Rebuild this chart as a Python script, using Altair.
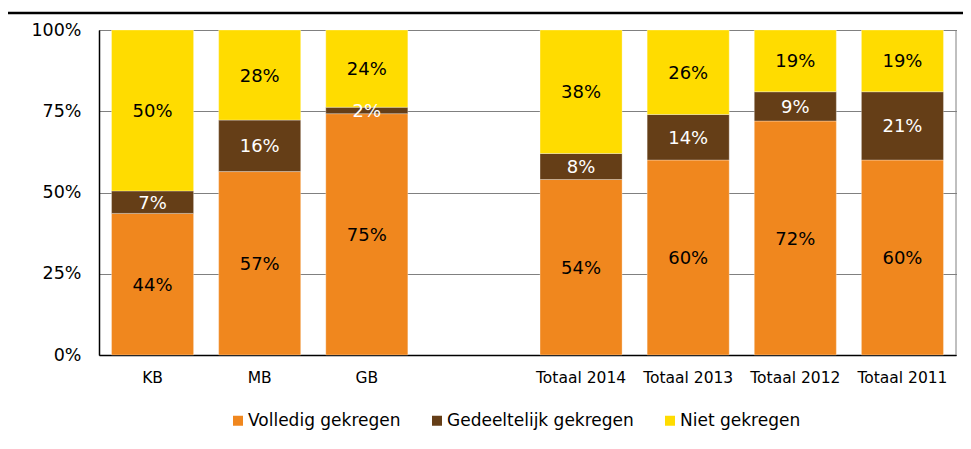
import altair as alt
import pandas as pd

categories = ["KB", "MB", "GB", " ", "Totaal 2014", "Totaal 2013", "Totaal 2012", "Totaal 2011"]
bar_categories = ["KB", "MB", "GB", "Totaal 2014", "Totaal 2013", "Totaal 2012", "Totaal 2011"]
series = ["Volledig gekregen", "Gedeeltelijk gekregen", "Niet gekregen"]
colors = ["#F0871E", "#653E17", "#FFDC00"]

volledig = [44, 57, 75, 54, 60, 72, 60]
gedeeltelijk = [7, 16, 2, 8, 14, 9, 21]
niet = [50, 28, 24, 38, 26, 19, 19]

rows = []
for i, c in enumerate(bar_categories):
    for j, (s, vals) in enumerate(zip(series, [volledig, gedeeltelijk, niet])):
        rows.append({"cat": c, "serie": s, "value": vals[i], "order": j})
df = pd.DataFrame(rows)
one = pd.DataFrame({"a": [0]})

W, H = 857, 325
FONT = "DejaVu Sans"

base = alt.Chart(df).transform_stack(
    stack="value", groupby=["cat"], as_=["y0", "y1"], offset="normalize",
    sort=[alt.SortField("order", "ascending")]
).transform_calculate(
    mid="(datum.y0 + datum.y1) / 2", label="datum.value + '%'"
)

xenc = alt.X("cat:N", sort=categories,
             scale=alt.Scale(domain=categories, paddingInner=0.234, paddingOuter=0.117),
             axis=alt.Axis(title=None, labelAngle=0, labelFontSize=15.5, labelColor="#000",
                           labelPadding=15, ticks=False, domainColor="#000", domainWidth=1.5,
                           labelFont=FONT))

bars = base.mark_bar(stroke="#ffffff", strokeWidth=0.6, strokeOpacity=0.5).encode(
    x=xenc,
    y=alt.Y("y0:Q", scale=alt.Scale(domain=[0, 1]),
            axis=alt.Axis(title=None, values=[0, 0.25, 0.5, 0.75, 1], format=".0%",
                          labelFontSize=17.5, labelColor="#000", labelPadding=18, ticks=False,
                          domainColor="#000", domainWidth=1.5, grid=True, gridColor="#000",
                          gridDash=[1, 1], gridWidth=1, labelFont=FONT)),
    y2="y1:Q",
    color=alt.Color("serie:N", scale=alt.Scale(domain=series, range=colors),
                    legend=alt.Legend(title=None, orient="none", legendX=130.5, legendY=382,
                                      direction="horizontal", symbolType="square",
                                      symbolSize=100, symbolStrokeWidth=0, labelFontSize=17,
                                      labelFont=FONT, labelColor="#000", labelOffset=1.5,
                                      labelLimit=400, columnPadding=27, padding=0)),
    order=alt.Order("order:Q"),
)

labels = base.mark_text(fontSize=18, font=FONT, baseline="middle", align="center", dy=1.5).encode(
    x=alt.X("cat:N", sort=categories),
    y=alt.Y("mid:Q"),
    text="label:N",
    color=alt.condition(alt.datum.serie == "Gedeeltelijk gekregen",
                        alt.value("#ffffff"), alt.value("#000000")),
)

right_border = alt.Chart(one).mark_rule(color="#808080", strokeWidth=1).encode(
    x=alt.value(W), y=alt.value(0), y2=alt.value(H))

top_line = alt.Chart(one).mark_rule(color="#000000", strokeWidth=2.5, clip=False).encode(
    x=alt.value(-92), x2=alt.value(880), y=alt.value(-17))

chart = alt.layer(bars, labels, right_border, top_line).properties(
    width=W, height=H,
    autosize=alt.AutoSizeParams(type="none"),
    padding={"left": 91, "top": 22, "right": 7, "bottom": 86},
).configure_view(stroke=None)

chart.save("out.html", embed_options={"renderer": "svg", "actions": False})
